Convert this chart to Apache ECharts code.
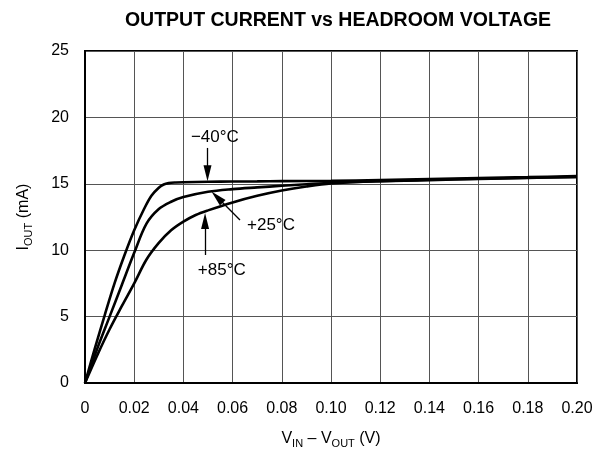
<!DOCTYPE html>
<html>
<head>
<meta charset="utf-8">
<script src="https://cdn.jsdelivr.net/npm/echarts@6/dist/echarts.min.js"></script>
<style>
    html, body { margin: 0; padding: 0; background: #fff; }
    #chart { width: 606px; height: 454px; }
</style>
</head>
<body>
<div id="chart"></div>
<script>
    // values
    var xMin = 0, xMax = 0.2, xStep = 0.02;
    var yMin = 0, yMax = 25, yStep = 5;

    var curveM40 = [[0, 0], [0.004, 2.6], [0.008, 5.1], [0.012, 7.5], [0.016, 9.6], [0.02, 11.5],
        [0.024, 13.1], [0.027, 14.1], [0.03, 14.7], [0.032, 14.95], [0.034, 15.05], [0.037, 15.1],
        [0.04, 15.12], [0.05, 15.15], [0.06, 15.17], [0.07, 15.18], [0.08, 15.2], [0.1, 15.22],
        [0.12, 15.28], [0.14, 15.35], [0.16, 15.43], [0.18, 15.5], [0.2, 15.58]];
    var curveP25 = [[0, 0], [0.005, 2.6], [0.01, 5.0], [0.015, 7.4], [0.02, 9.8], [0.025, 12.0],
        [0.03, 13.1], [0.035, 13.65], [0.04, 14.0], [0.05, 14.4], [0.06, 14.6], [0.07, 14.73],
        [0.08, 14.85], [0.09, 14.97], [0.1, 15.08], [0.12, 15.2], [0.14, 15.28], [0.16, 15.36],
        [0.18, 15.44], [0.2, 15.52]];
    var curveP85 = [[0, 0], [0.005, 2.1], [0.01, 4.05], [0.015, 5.8], [0.02, 7.5], [0.025, 9.3],
        [0.03, 10.55], [0.035, 11.5], [0.04, 12.15], [0.045, 12.65], [0.05, 13.0], [0.06, 13.6],
        [0.07, 14.1], [0.08, 14.5], [0.09, 14.8], [0.1, 15.02], [0.12, 15.2], [0.14, 15.3],
        [0.16, 15.38], [0.18, 15.45], [0.2, 15.52]];

    var tempNames = ['\u221240\u00b0C', '+25\u00b0C', '+85\u00b0C'];
    var tempTextAt = [[0.0528, 18.5], [0.0756, 11.9], [0.0556, 8.5]];
    var tempArrowFrom = [[0.0498, 17.7], [0.063, 12.27], [0.0488, 9.64]];
    var tempArrowTo = [[0.0498, 15.8], [0.0537, 14.0], [0.0488, 12.2]];

    var font = "'Liberation Sans', Arial, Helvetica, sans-serif";
    var chart = echarts.init(document.getElementById('chart'));

    function curve(data, i) {
        return {
            type: 'line',
            data: data,
            showSymbol: false,
            smooth: 0.35,
            lineStyle: { color: '#000', width: 2.6 },
            emphasis: { disabled: true },
            markLine: {
                silent: true,
                animation: false,
                symbol: ['none', 'triangle'],
                lineStyle: { color: '#000', width: 1.3, type: 'solid' },
                label: { show: false },
                data: [[
                    { coord: tempArrowFrom[i], symbol: 'none', symbolSize: 0 },
                    { coord: tempArrowTo[i], symbol: 'triangle', symbolSize: [8, 16] }
                ]]
            },
            markPoint: {
                silent: true,
                animation: false,
                symbol: 'circle',
                symbolSize: 0,
                label: {
                    show: true, position: 'inside', color: '#000',
                    fontFamily: font, fontSize: 17,
                    formatter: tempNames[i]
                },
                data: [{ coord: tempTextAt[i] }]
            }
        };
    }

    chart.setOption({
        animation: false,
        title: {
            text: 'OUTPUT CURRENT vs HEADROOM VOLTAGE',
            left: 333, top: 6, textAlign: 'center',
            textStyle: { fontFamily: font, fontSize: 19.5, fontWeight: 'bold', color: '#000' }
        },
        grid: {
            left: 85, right: 29, top: 51, bottom: 71,
            show: true, borderColor: '#000', borderWidth: 2
        },
        xAxis: {
            type: 'value',
            min: xMin, max: xMax, interval: xStep,
            name: '{n|V}{s|IN}{n| \u2013 V}{s|OUT}{n| (V)}',
            nameLocation: 'middle', nameGap: 46,
            nameTextStyle: {
                fontFamily: font, color: '#000',
                rich: {
                    n: { fontFamily: font, fontSize: 16, lineHeight: 20, color: '#000' },
                    s: { fontFamily: font, fontSize: 11, lineHeight: 12, verticalAlign: 'bottom', color: '#000' }
                }
            },
            axisLine: { lineStyle: { color: '#000', width: 2 } },
            axisTick: { show: false },
            axisLabel: {
                margin: 18, color: '#000', fontFamily: font, fontSize: 16,
                formatter: function (v) { return v === 0 ? '0' : v.toFixed(2); }
            },
            splitLine: { show: true, lineStyle: { color: '#555', width: 1 } }
        },
        yAxis: {
            type: 'value',
            min: yMin, max: yMax, interval: yStep,
            name: '{n|I}{s|OUT}{n| (mA)}',
            nameLocation: 'middle', nameGap: 51,
            nameTextStyle: {
                fontFamily: font, color: '#000',
                rich: {
                    n: { fontFamily: font, fontSize: 16, lineHeight: 20, color: '#000' },
                    s: { fontFamily: font, fontSize: 11, lineHeight: 12, verticalAlign: 'bottom', color: '#000' }
                }
            },
            axisLine: { show: true, lineStyle: { color: '#000', width: 2 } },
            axisTick: { show: false },
            axisLabel: { margin: 16, color: '#000', fontFamily: font, fontSize: 16 },
            splitLine: { show: true, lineStyle: { color: '#555', width: 1 } }
        },
        series: [
            curve(curveM40, 0),
            curve(curveP25, 1),
            curve(curveP85, 2)
        ]
    });
</script>
</body>
</html>
